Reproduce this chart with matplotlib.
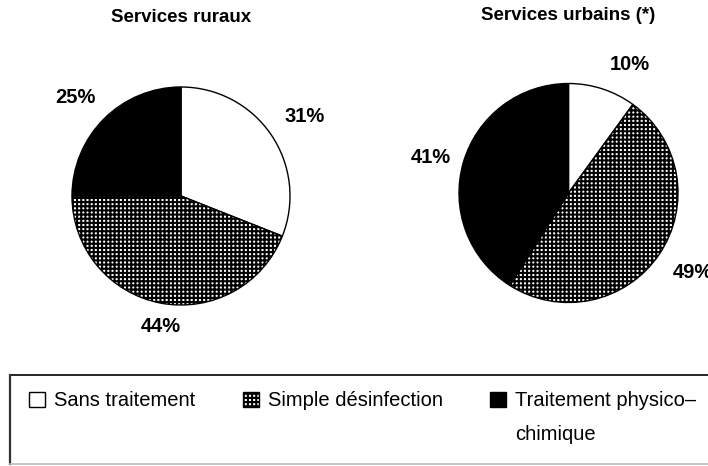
import matplotlib
matplotlib.use("Agg")
import matplotlib.pyplot as plt
from matplotlib.patches import Patch
from matplotlib.lines import Line2D
import numpy as np

plt.rcParams['font.family'] = ['Liberation Sans', 'DejaVu Sans']
plt.rcParams['hatch.linewidth'] = 1.5

# ---- data ----
categories = ["Sans traitement", "Simple désinfection", "Traitement physico–"]
category_cont = "chimique"
titles = ["Services ruraux", "Services urbains (*)"]
rural = [31, 44, 25]
urban = [10, 49, 41]

# ---- styles / layout ----
faces = ['white', 'white', 'black']
hatches = [None, '++++', None]
W, H = 708, 466
layouts = [
    dict(center=(181, 196), r=109, title_y=18, dist=[1.35, 1.21, 1.33], off=[-1.4, 1.8, 2.0]),
    dict(center=(568.5, 193), r=109.5, title_y=15, dist=[1.30, 1.35, 1.30], off=[-7.7, 1.8, 1.9]),
]

fig = plt.figure(figsize=(W / 100, H / 100), dpi=100)

for values, title, lay in zip([rural, urban], titles, layouts):
    cx, cy = lay['center']
    r = lay['r']
    ax = fig.add_axes([(cx - r) / W, (H - cy - r) / H, 2 * r / W, 2 * r / H])
    wedges, _ = ax.pie(values, startangle=90, counterclock=False, colors=faces,
                       wedgeprops=dict(edgecolor='black', linewidth=1))
    for w, h in zip(wedges, hatches):
        if h:
            w.set_hatch(h)
    for w, v, d, o in zip(wedges, values, lay['dist'], lay['off']):
        mid = np.deg2rad((w.theta1 + w.theta2) / 2 + o)
        ax.text(d * np.cos(mid), d * np.sin(mid), f"{v}%", ha='center', va='center',
                fontsize=14.5, fontweight='bold')
    ax.set_xlim(-1, 1)
    ax.set_ylim(-1, 1)
    ax.axis('off')
    fig.text(cx / W, 1 - lay['title_y'] / H, title, ha='center', va='center',
             fontsize=13.5, fontweight='bold')

# legend frame
top, bot, left = (H - 375) / H, (H - 464) / H, 9.5 / W
fig.add_artist(Line2D([left, 1.02], [top, top], color='black', lw=1.2, transform=fig.transFigure))
fig.add_artist(Line2D([left, left], [top, bot], color='#333333', lw=1.6, transform=fig.transFigure))
fig.add_artist(Line2D([left, 1.02], [bot, bot], color='#bbbbbb', lw=1.2, transform=fig.transFigure))

handles = [Patch(facecolor=f, edgecolor='black', hatch=h, linewidth=1) for f, h in zip(faces, hatches)]
leg = fig.legend(handles, categories, ncol=3, loc='center left',
                 bbox_to_anchor=(29 / W, (H - 401) / H), frameon=False,
                 fontsize=14.5, handlelength=0.8, handleheight=0.8, handletextpad=0.45,
                 columnspacing=2.35, borderpad=0, borderaxespad=0)

fig.canvas.draw()
bb = leg.get_texts()[2].get_window_extent()
fig.text(bb.x0 / W, (bb.y1 - 34) / H, category_cont, ha='left', va='top', fontsize=14.5)

fig.savefig('out.png', dpi=100)
